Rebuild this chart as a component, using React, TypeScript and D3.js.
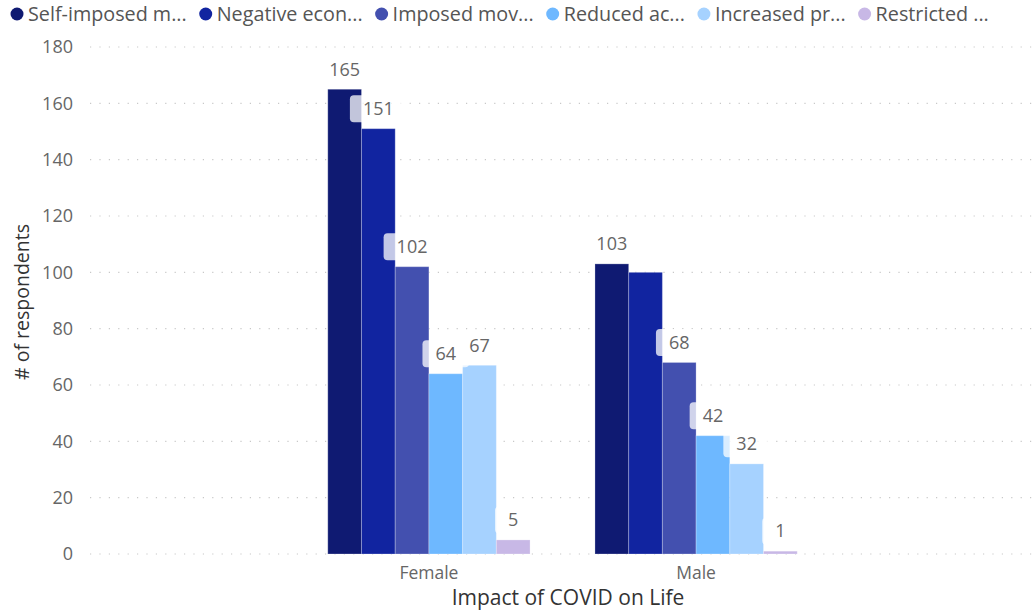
import { useEffect, useRef } from 'react'
import * as d3 from 'd3'

const CATEGORIES = ['Female', 'Male']
const SERIES = [
  'Self-imposed m...',
  'Negative econ...',
  'Imposed mov...',
  'Reduced ac...',
  'Increased pr...',
  'Restricted ...',
]
const FEMALE = [165, 151, 102, 64, 67, 5]
const MALE = [103, 100, 68, 42, 32, 1]
const COLORS = ['#0F1A72', '#1124A0', '#4350AF', '#6EB8FF', '#A6D2FF', '#C8B8E6']
const Y_TICKS = [0, 20, 40, 60, 80, 100, 120, 140, 160, 180]
// labels Power BI dropped because they collided
const HIDDEN_LABELS = ['Male|1']

const W = 1035
const H = 611
const FONT = "'Segoe UI', 'Open Sans', 'Noto Sans', sans-serif"

export default function App() {
  const ref = useRef<SVGSVGElement>(null)

  useEffect(() => {
    const svg = d3.select(ref.current)
    svg.selectAll('*').remove()

    const values = [FEMALE, MALE]
    const y = d3.scaleLinear().domain([0, 180]).range([554, 47])
    const x = d3
      .scaleBand<string>()
      .domain(CATEGORIES)
      .range([90, 1035])
      .paddingInner(0.243)
      .paddingOuter(0.89)
    const xs = d3
      .scaleBand<number>()
      .domain(d3.range(SERIES.length))
      .range([0, x.bandwidth()])

    // grid
    svg
      .append('g')
      .selectAll('line')
      .data(Y_TICKS)
      .join('line')
      .attr('x1', 90)
      .attr('x2', 1032)
      .attr('y1', (d) => y(d))
      .attr('y2', (d) => y(d))
      .attr('stroke', '#c8c8c8')
      .attr('stroke-width', 1.2)
      .attr('stroke-dasharray', '1.2 8.2')

    svg
      .append('g')
      .selectAll('text')
      .data(Y_TICKS)
      .join('text')
      .attr('x', 73)
      .attr('y', (d) => y(d))
      .attr('dy', '0.35em')
      .attr('text-anchor', 'end')
      .attr('font-size', 18)
      .attr('fill', '#666')
      .text((d) => d)

    // bars
    const groups = svg
      .append('g')
      .selectAll('g')
      .data(CATEGORIES)
      .join('g')
      .attr('transform', (c) => `translate(${x(c)},0)`)

    groups
      .selectAll('rect')
      .data((c, ci) => values[ci].map((v, i) => ({ v, i })))
      .join('rect')
      .attr('x', (d) => xs(d.i)!)
      .attr('y', (d) => y(d.v))
      .attr('width', xs.bandwidth())
      .attr('height', (d) => y(0) - y(d.v))
      .attr('fill', (d) => COLORS[d.i])
      .attr('stroke', 'rgba(255,255,255,0.25)')
      .attr('stroke-width', 1)

    // data labels with translucent background
    groups.each(function (c, ci) {
      const g = d3.select(this)
      values[ci].forEach((v, i) => {
        if (HIDDEN_LABELS.includes(`${c}|${i}`)) return
        const cx = xs(i)! + xs.bandwidth() / 2
        const cy = y(v) - 20
        const t = g
          .append('text')
          .attr('x', cx)
          .attr('y', cy)
          .attr('dy', '0.35em')
          .attr('text-anchor', 'middle')
          .attr('font-size', 18)
          .attr('fill', '#666')
          .text(v)
        const bw = (t.node() as SVGTextElement).getComputedTextLength() + 26
        g.insert('rect', () => t.node())
          .attr('x', cx - bw / 2)
          .attr('y', cy - 13.5)
          .attr('width', bw)
          .attr('height', 27)
          .attr('rx', 4)
          .attr('fill', 'rgba(255,255,255,0.75)')
      })
    })

    // category labels
    svg
      .append('g')
      .selectAll('text')
      .data(CATEGORIES)
      .join('text')
      .attr('x', (c) => x(c)! + x.bandwidth() / 2)
      .attr('y', 573)
      .attr('dy', '0.35em')
      .attr('text-anchor', 'middle')
      .attr('font-size', 17.5)
      .attr('fill', '#666')
      .text((c) => c)

    svg
      .append('text')
      .attr('x', 568)
      .attr('y', 598)
      .attr('dy', '0.35em')
      .attr('text-anchor', 'middle')
      .attr('font-size', 21)
      .attr('fill', '#333')
      .text('Impact of COVID on Life')

    svg
      .append('text')
      .attr('transform', 'translate(22,302) rotate(-90)')
      .attr('dy', '0.35em')
      .attr('text-anchor', 'middle')
      .attr('font-size', 19.5)
      .attr('fill', '#333')
      .text('# of respondents')

    // legend
    let lx = 10
    SERIES.forEach((s, i) => {
      svg
        .append('circle')
        .attr('cx', lx + 7)
        .attr('cy', 14)
        .attr('r', 6.5)
        .attr('fill', COLORS[i])
      const t = svg
        .append('text')
        .attr('x', lx + 18)
        .attr('y', 14)
        .attr('dy', '0.35em')
        .attr('font-size', 19.75)
        .attr('fill', '#555')
        .text(s)
      lx += 18 + (t.node() as SVGTextElement).getComputedTextLength() + 12
    })
  }, [])

  return (
    <svg
      ref={ref}
      width={W}
      height={H}
      style={{ position: 'absolute', left: 0, top: 0, fontFamily: FONT, background: '#fff' }}
    />
  )
}
